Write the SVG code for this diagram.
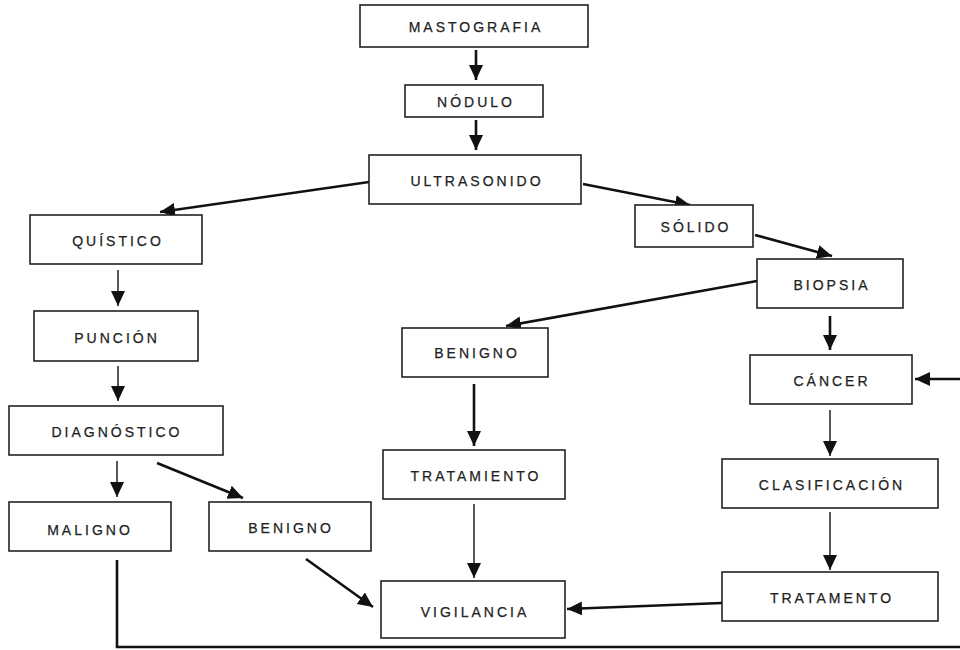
<svg xmlns="http://www.w3.org/2000/svg" width="960" height="650" viewBox="0 0 960 650">
<style>
.box{fill:#fff;stroke:#222;stroke-width:1.6}
.lbl{font-family:"Liberation Sans",Arial,sans-serif;font-size:14px;letter-spacing:3px;fill:#222;stroke:#222;stroke-width:0.25;text-anchor:middle;dominant-baseline:central}
.thick{fill:none;stroke:#111;stroke-width:2.6}
.thin{fill:none;stroke:#111;stroke-width:1.4}
</style>
<defs>
<marker id="ah" markerUnits="userSpaceOnUse" markerWidth="16" markerHeight="16" viewBox="0 0 16 16" refX="15" refY="8" orient="auto">
<path d="M0,1 L15,8 L0,15 Z" fill="#111"/>
</marker>
</defs>
<rect width="960" height="650" fill="#fff"/>
<g id="connectors">
<line class="thick" x1="476" y1="50" x2="476" y2="80" marker-end="url(#ah)"/>
<line class="thick" x1="476" y1="120" x2="476" y2="150" marker-end="url(#ah)"/>
<line class="thick" x1="369" y1="182" x2="160" y2="212" marker-end="url(#ah)"/>
<line class="thick" x1="583" y1="184" x2="690" y2="205" marker-end="url(#ah)"/>
<line class="thick" x1="755" y1="235" x2="832" y2="256" marker-end="url(#ah)"/>
<line class="thick" x1="757" y1="281" x2="506" y2="326" marker-end="url(#ah)"/>
<line class="thick" x1="830" y1="316" x2="830" y2="350" marker-end="url(#ah)"/>
<line class="thin" x1="118" y1="270" x2="118" y2="306" marker-end="url(#ah)"/>
<line class="thin" x1="118" y1="366" x2="118" y2="401" marker-end="url(#ah)"/>
<line class="thin" x1="117" y1="461" x2="117" y2="497" marker-end="url(#ah)"/>
<line class="thick" x1="157" y1="463" x2="243" y2="498" marker-end="url(#ah)"/>
<line class="thick" x1="474" y1="384" x2="474" y2="446" marker-end="url(#ah)"/>
<line class="thin" x1="474" y1="504" x2="474" y2="578" marker-end="url(#ah)"/>
<line class="thick" x1="306" y1="559" x2="373" y2="607" marker-end="url(#ah)"/>
<line class="thick" x1="722" y1="603" x2="567" y2="609" marker-end="url(#ah)"/>
<line class="thin" x1="830" y1="410" x2="830" y2="456" marker-end="url(#ah)"/>
<line class="thin" x1="830" y1="512" x2="830" y2="570" marker-end="url(#ah)"/>
<path class="thick" d="M117,560 V647 H963 V379 H915" marker-end="url(#ah)"/>
</g>
<g id="mastografia"><rect class="box" x="360" y="5" width="228" height="42"/><text class="lbl" x="476" y="27">MASTOGRAFIA</text></g>
<g id="nodulo"><rect class="box" x="405" y="85" width="138" height="32"/><text class="lbl" x="476" y="102">NÓDULO</text></g>
<g id="ultrasonido"><rect class="box" x="369" y="155" width="212" height="49"/><text class="lbl" x="477" y="181">ULTRASONIDO</text></g>
<g id="quistico"><rect class="box" x="30" y="215" width="172" height="49"/><text class="lbl" x="118" y="241">QUÍSTICO</text></g>
<g id="solido"><rect class="box" x="635" y="205" width="118" height="42"/><text class="lbl" x="696" y="227">SÓLIDO</text></g>
<g id="biopsia"><rect class="box" x="757" y="259" width="146" height="49"/><text class="lbl" x="832" y="285">BIOPSIA</text></g>
<g id="puncion"><rect class="box" x="34" y="311" width="164" height="50"/><text class="lbl" x="117" y="338">PUNCIÓN</text></g>
<g id="benigno-mid"><rect class="box" x="402" y="328" width="146" height="49"/><text class="lbl" x="477" y="353">BENIGNO</text></g>
<g id="cancer"><rect class="box" x="750" y="355" width="162" height="49"/><text class="lbl" x="832" y="381">CÁNCER</text></g>
<g id="diagnostico"><rect class="box" x="9" y="406" width="214" height="49"/><text class="lbl" x="117" y="432">DIAGNÓSTICO</text></g>
<g id="tratamiento-mid"><rect class="box" x="383" y="450" width="182" height="49"/><text class="lbl" x="476" y="476">TRATAMIENTO</text></g>
<g id="clasificacion"><rect class="box" x="722" y="459" width="216" height="49"/><text class="lbl" x="832" y="485">CLASIFICACIÓN</text></g>
<g id="maligno"><rect class="box" x="9" y="502" width="162" height="49"/><text class="lbl" x="90" y="530">MALIGNO</text></g>
<g id="benigno-left"><rect class="box" x="209" y="502" width="162" height="49"/><text class="lbl" x="291" y="528">BENIGNO</text></g>
<g id="vigilancia"><rect class="box" x="381" y="581" width="184" height="57"/><text class="lbl" x="475" y="612">VIGILANCIA</text></g>
<g id="tratamento"><rect class="box" x="722" y="572" width="216" height="49"/><text class="lbl" x="832" y="598">TRATAMENTO</text></g>
</svg>
